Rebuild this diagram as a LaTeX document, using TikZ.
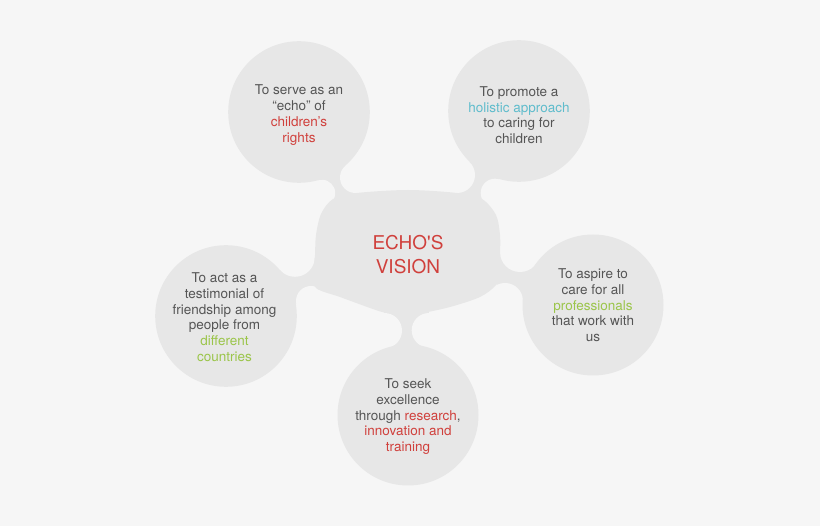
\documentclass[tikz,border=0pt]{standalone}
\usepackage{fontspec}
\setmainfont{TeX Gyre Heros}
\newfontfamily\titlefont{TeX Gyre Heros}[Ligatures=TeXOff]
\definecolor{bgc}{HTML}{F6F6F6}
\definecolor{blobc}{HTML}{E7E7E7}
\definecolor{txtc}{HTML}{555555}
\definecolor{redc}{HTML}{D0403C}
\definecolor{tealc}{HTML}{5FBCCC}
\definecolor{greenc}{HTML}{9BC54A}
\begin{document}
\begin{tikzpicture}[x=1pt,y=-1pt,
  bubbletext/.style={text=txtc, align=center, font=\fontsize{13.5}{15.9}\selectfont, inner sep=0pt},
  titletext/.style={text=redc, align=center, font=\titlefont\fontsize{19}{23.5}\selectfont, inner sep=0pt},
  gapfill/.style={fill=bgc},
  blobfill/.style={fill=blobc}]
\useasboundingbox (0,0) rectangle (820,526);
\fill[bgc] (0,0) rectangle (820,526);
% neck filler
\fill[blobfill] (299,112) -- (519,111) -- (593,305) -- (408,415) -- (226,316) -- cycle;
% gaps between the necks
\fill[gapfill] (299,112) -- (355.5,177.5) -- (355.5,215) -- (457,215) -- (457,175) -- (519,111) -- (409,50) -- cycle;
\fill[gapfill] (519,111) -- (495,193) -- (470,205) -- (480,252) -- (520,252) -- (593,305) -- (612,186) -- cycle;
\fill[gapfill] (593,305) -- (505,301) -- (490,272) -- (429,300) -- (429,330) -- (408,415) -- (531,412) -- cycle;
\fill[gapfill] (408,415) -- (384.4,330.6) -- (384,300) -- (320,274) -- (311,301) -- (226,316) -- (288,418) -- cycle;
\fill[gapfill] (226,316) -- (295,257) -- (330,257) -- (345,206) -- (322,193) -- (299,112) -- (206,194) -- cycle;
\fill[gapfill] (355.5,177.5) circle (15.5pt) (457,175) circle (18pt) (495,193) circle (14.3pt)
  (520,252) circle (20pt) (505,301) circle (18pt) (429,330.3) circle (17.3pt)
  (384.4,330.6) circle (17.6pt) (311,301) circle (15pt) (295,257) circle (19.8pt)
  (322,193) circle (13.2pt);
% central blob
\fill[blobfill] plot[smooth cycle] coordinates {(408,190) (457,193) (482,199) (496,215) (500,235)
  (500,255) (499,272) (496,285) (480,297) (450,307) (420,313.5) (408,314) (396,313.5)
  (384,312.5) (370,308) (340,297) (316,288) (314,272) (315,255) (316,235) (321,214)
  (333,199) (357,193)};
% bubbles
\fill[blobfill] (299,112) circle (70.8pt) (519,111) circle (70.8pt) (593,305) circle (70.5pt)
  (408,415) circle (70.5pt) (226,316) circle (70.8pt);
% texts
\node[titletext] (vision) at (408,254.5) {ECHO'S\\VISION};
\node[bubbletext] (echo) at (299,115) {To serve as an\\“echo” of\\\textcolor{redc}{children’s}\\\textcolor{redc}{rights}};
\node[bubbletext] (holistic) at (519,115.2) {To promote a\\\textcolor{tealc}{holistic approach}\\to caring for\\children};
\node[bubbletext] (aspire) at (593,305.2) {To aspire to\\care for all\\\textcolor{greenc}{professionals}\\that work with\\us};
\node[bubbletext] (seek) at (408,416.6) {To seek\\excellence\\through \textcolor{redc}{research},\\\textcolor{redc}{innovation and}\\\textcolor{redc}{training}};
\node[bubbletext] (act) at (224.5,317.2) {To act as a\\testimonial of\\friendship among\\people from\\\textcolor{greenc}{different}\\\textcolor{greenc}{countries}};
\end{tikzpicture}
\end{document}
